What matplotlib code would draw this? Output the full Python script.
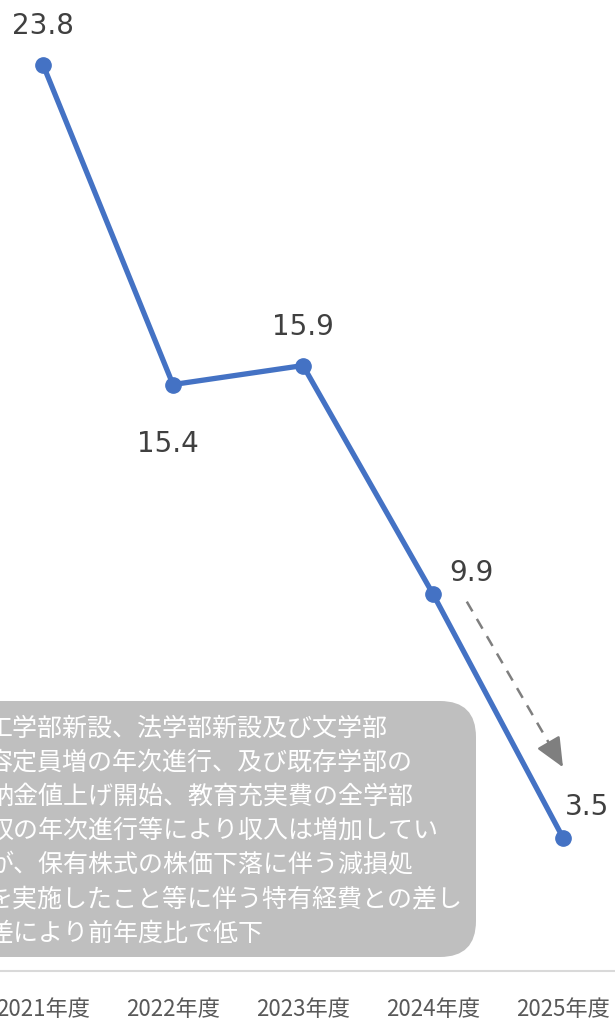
import matplotlib
matplotlib.use('Agg')
import matplotlib.pyplot as plt
from matplotlib.patches import FancyBboxPatch

years = ['2021年度', '2022年度', '2023年度', '2024年度', '2025年度']
values = [23.8, 15.4, 15.9, 9.9, 3.5]
# label offsets in pixels (dx, dy) from each point
label_offsets = [(0, 40), (-5, -58), (0, 40), (38, 22), (24, 32)]

note_lines = [
    '工学部新設、法学部新設及び文学部',
    '容定員増の年次進行、及び既存学部の',
    '納金値上げ開始、教育充実費の全学部',
    '収の年次進行等により収入は増加してい',
    'が、保有株式の株価下落に伴う減損処',
    'を実施したこと等に伴う特有経費との差し',
    '差により前年度比で低下',
]

jp = ['Noto Sans CJK JP', 'DejaVu Sans']
blue = '#4472C4'
grey = '#7F7F7F'

fig = plt.figure(figsize=(6.15, 10.2), dpi=100)
ax = fig.add_axes([0, 48 / 1020, 1, 972 / 1020])

x = list(range(len(years)))
ax.plot(x, values, color=blue, lw=3.8, marker='o', markersize=11, zorder=3)

for xi, v, (dx, dy) in zip(x, values, label_offsets):
    ax.annotate(f'{v:.1f}', xy=(xi, v), xytext=(dx, dy), textcoords='offset pixels',
                ha='center', va='center', fontsize=20, color='#404040',
                family='DejaVu Sans')

# dashed trend arrow between 2024 and 2025
a_start = (3.26, 9.7)
a_tip = (4.0, 5.35)
a_mid = (a_start[0] + 0.88 * (a_tip[0] - a_start[0]), a_start[1] + 0.88 * (a_tip[1] - a_start[1]))
ax.plot([a_start[0], a_mid[0]], [a_start[1], a_mid[1]], color=grey, lw=1.8,
        dashes=(4.5, 3.5))
ax.annotate('', xy=a_tip, xytext=a_mid,
            arrowprops=dict(arrowstyle='-|>,head_length=0.9,head_width=0.4',
                            color=grey, lw=1.8, mutation_scale=20, shrinkA=0, shrinkB=0))

ax.set_xlim(-43 / 130, -43 / 130 + 615 / 130)
ax.set_ylim(0, 972 / 38.08)
ax.set_xticks(x)
ax.set_xticklabels(years, family=jp, fontsize=16, color='#595959')
ax.tick_params(axis='x', length=0, pad=19)
ax.set_yticks([])
for s in ['top', 'left', 'right']:
    ax.spines[s].set_visible(False)
ax.spines['bottom'].set_color('#D9D9D9')
ax.spines['bottom'].set_linewidth(1.5)
ax.patch.set_alpha(0)

# note box (cut off on the left like the original)
box = FancyBboxPatch((-0.4, 0.62), 5.16, 2.56,
                     boxstyle='round,pad=0,rounding_size=0.36',
                     transform=fig.dpi_scale_trans, facecolor='#BFBFBF',
                     edgecolor='none', zorder=0)
fig.patches.append(box)
fig.text(-12 / 615, (1020 - 831) / 1020, '\n'.join(note_lines), ha='left', va='center',
         fontsize=18, color='white', family=jp, linespacing=1.41)

fig.savefig('out.png', dpi=100)
